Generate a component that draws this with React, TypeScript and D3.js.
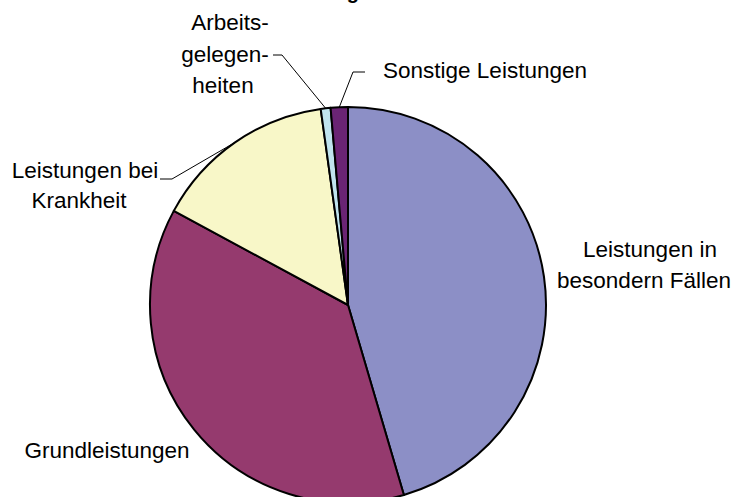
import React from "react";
import * as d3 from "d3";

// Anteile der Leistungsarten (in %), im Uhrzeigersinn ab 12 Uhr
const categories = [
  "Leistungen in besondern Fällen",
  "Grundleistungen",
  "Leistungen bei Krankheit",
  "Arbeitsgelegenheiten",
  "Sonstige Leistungen",
];
const values = [45.4, 37.4, 14.9, 0.8, 1.4];
const colors = ["#8C8FC6", "#953A6E", "#F8F7C8", "#C0E4EE", "#6A2474"];
const title = "Ausgaben";

const W = 731;
const H = 497;
const cx = 348;
const cy = 305;
const radius = 198;
const font = "'Liberation Sans', Arial, sans-serif";

// label layout: lines with their own centre x and baseline y
const labelLayout: { lines: [string, number, number][]; leader?: [number, number][] }[] = [
  { lines: [["Leistungen in", 650, 257], ["besondern Fällen", 644, 288]] },
  { lines: [["Grundleistungen", 107, 458]] },
  {
    lines: [["Leistungen bei", 85, 178], ["Krankheit", 79, 208]],
    leader: [[160, 179], [172, 179]],
  },
  {
    lines: [["Arbeits-", 230, 30], ["gelegen-", 225, 62], ["heiten", 223, 93]],
    leader: [[273, 55], [282, 55]],
  },
  {
    lines: [["Sonstige Leistungen", 485, 78]],
    leader: [[365, 72], [353, 72]],
  },
];

export default function App() {
  const pie = d3
    .pie<number>()
    .sort(null)
    .startAngle(0)
    .endAngle(2 * Math.PI)
    .value((d) => d);
  const arcs = pie(values);
  const arc = d3.arc<d3.PieArcDatum<number>>().innerRadius(0).outerRadius(radius);
  const edge = d3.arc<d3.PieArcDatum<number>>().innerRadius(radius).outerRadius(radius);

  return (
    <svg
      width={W}
      height={H}
      style={{ position: "absolute", left: 0, top: 0, background: "#fff" }}
    >
      <text
        x={309}
        y={-1}
        fontFamily={font}
        fontWeight="bold"
        fontSize={20}
        fill="#000"
      >
        {title}
      </text>
      <g transform={`translate(${cx},${cy})`}>
        {arcs.map((a, i) => (
          <path
            key={categories[i]}
            d={arc(a) || ""}
            fill={colors[i]}
            stroke="#000"
            strokeWidth={2}
            strokeLinejoin="round"
          />
        ))}
      </g>
      {labelLayout.map((l, i) => {
        let pts: [number, number][] = [];
        if (l.leader) {
          const c = edge.centroid(arcs[i]);
          pts = [...l.leader, [c[0] + cx, c[1] + cy]];
        }
        return (
          <g key={categories[i]}>
            {pts.length > 0 && (
              <path
                d={d3.line()(pts) || ""}
                fill="none"
                stroke="#000"
                strokeWidth={1}
              />
            )}
            {l.lines.map(([t, x, y]) => (
              <text
                key={t}
                x={x}
                y={y}
                textAnchor="middle"
                fontFamily={font}
                fontSize={22.5}
                fill="#000"
              >
                {t}
              </text>
            ))}
          </g>
        );
      })}
    </svg>
  );
}
